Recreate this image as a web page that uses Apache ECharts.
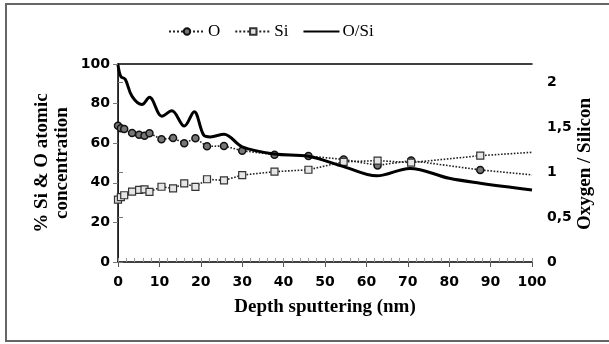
<!DOCTYPE html>
<html>
<head>
<meta charset="utf-8">
<script src="https://cdn.jsdelivr.net/npm/echarts@6/dist/echarts.min.js"></script>
<style>html,body{margin:0;padding:0;background:#fff}#c{width:609px;height:344px}</style>
</head>
<body>
<div id="c"></div>
<script>
// Depth (nm) of each measurement
const depth = [0, 0.7, 1.5, 3.4, 5.1, 6.4, 7.6, 10.5, 13.3, 16, 18.7, 21.5, 25.6, 30, 37.8, 46, 54.5, 62.7, 70.8, 87.5, 100];
// O atomic concentration (%)
const oConc = [68.8, 67.5, 67.2, 65.2, 64.3, 63.8, 65, 62, 62.6, 60, 62.5, 58.4, 58.6, 56.2, 54.2, 53.5, 51.8, 48.8, 51.2, 46.5, 44];
// Si atomic concentration (%)
const siConc = [31.5, 32.8, 33.7, 35.5, 36.4, 36.7, 35.4, 38, 37.2, 39.7, 37.9, 41.8, 41.2, 43.9, 45.6, 46.6, 50.6, 51.2, 50.2, 53.7, 55.4];
// O/Si ratio curve (right axis)
const ratioDepth = [0, 0.7, 1.75, 3.4, 5.8, 7.6, 10.6, 13, 16, 18.4, 20.7, 22.3, 25.6, 30, 37.8, 46, 54.5, 62.5, 70.5, 80, 87.5, 100];
const ratio = [2.19, 2.06, 2.03, 1.84, 1.75, 1.83, 1.62, 1.68, 1.51, 1.67, 1.41, 1.39, 1.42, 1.28, 1.2, 1.175, 1.06, 0.957, 1.04, 0.93, 0.876, 0.80];

const seriesNames = ['O', 'Si', 'O/Si'];
const xTitle = 'Depth sputtering (nm)';
const yTitleLines = ['% Si & O atomic', 'concentration'];
const y2Title = 'Oxygen / Silicon';

function pts(xs, ys, markLast) {
  return xs.map((x, i) => (markLast && i === xs.length - 1) ? {value: [x, ys[i]], symbol: 'none'} : [x, ys[i]]);
}

const tickFont = {fontFamily: 'DejaVu Sans', fontWeight: 'bold', fontSize: 14, color: '#000'};
const titleFont = 'bold 19px "Liberation Serif"';

const chart = echarts.init(document.getElementById('c'), null, {renderer: 'canvas'});
chart.setOption({
  animation: false,
  backgroundColor: '#fff',
  grid: {left: 118, right: 77, top: 64, bottom: 82, show: false},
  legend: {
    left: 163, top: 18, itemWidth: 36, itemHeight: 8, itemGap: 14,
    textStyle: {fontFamily: 'Liberation Serif', fontSize: 17, color: '#000', padding: [0, 0, 0, -2]},
    data: [
      {name: seriesNames[0]},
      {name: seriesNames[1]},
      {name: seriesNames[2], itemStyle: {opacity: 0}}
    ]
  },
  xAxis: [
    {type: 'value', min: 0, max: 100, interval: 10, position: 'bottom',
     axisLine: {show: true, lineStyle: {color: '#000', width: 1.5}},
     axisTick: {show: true, inside: false, length: 5, lineStyle: {color: '#555'}},
     axisLabel: Object.assign({margin: 13}, tickFont),
     splitLine: {show: false}},
    {type: 'value', min: 0, max: 100, interval: 2, position: 'bottom',
     axisLine: {show: false}, axisLabel: {show: false}, splitLine: {show: false},
     axisTick: {show: true, inside: true, length: 4, lineStyle: {color: '#999'}}},
    {type: 'value', min: 0, max: 100, position: 'top',
     axisLine: {show: true, lineStyle: {color: '#000', width: 1.5}},
     axisTick: {show: false}, axisLabel: {show: false}, splitLine: {show: false}}
  ],
  yAxis: [
    {type: 'value', min: 0, max: 100, interval: 20, position: 'left',
     axisLine: {show: true, lineStyle: {color: '#777', width: 1}},
     axisTick: {show: true, inside: false, length: 5, lineStyle: {color: '#777'}},
     axisLabel: Object.assign({margin: 8}, tickFont),
     splitLine: {show: false}},
    {type: 'value', min: 0, max: 2.2, interval: 0.5, position: 'right',
     axisLine: {show: true, lineStyle: {color: '#000', width: 1.5}},
     axisTick: {show: true, inside: false, length: 5, lineStyle: {color: '#777'}},
     axisLabel: Object.assign({margin: 15, showMaxLabel: false,
       formatter: v => String(v).replace('.', ',')}, tickFont),
     splitLine: {show: false}}
  ],
  series: [
    {name: seriesNames[0], type: 'line', xAxisIndex: 0, yAxisIndex: 0, data: pts(depth, oConc, true),
     symbol: 'circle', symbolSize: 7,
     lineStyle: {color: '#222', width: 1.6, type: 'dotted'},
     itemStyle: {color: '#777', borderColor: '#111', borderWidth: 1.5}, z: 3},
    {name: seriesNames[1], type: 'line', xAxisIndex: 0, yAxisIndex: 0, data: pts(depth, siConc, true),
     symbol: 'rect', symbolSize: 7,
     lineStyle: {color: '#222', width: 1.6, type: 'dotted'},
     itemStyle: {color: '#e6e6e6', borderColor: '#333', borderWidth: 1.2}, z: 3},
    {name: seriesNames[2], type: 'line', xAxisIndex: 0, yAxisIndex: 1, data: pts(ratioDepth, ratio, false),
     smooth: 0.35, showSymbol: false, symbol: 'none',
     lineStyle: {color: '#000', width: 3}, itemStyle: {color: '#000'}, z: 4}
  ],
  graphic: [
    {type: 'rect', silent: true, z: 100, shape: {x: 6, y: 4, width: 620, height: 337},
     style: {fill: 'none', stroke: '#666', lineWidth: 2}},
    {type: 'text', x: 325, y: 307, style: {text: xTitle, font: titleFont, fill: '#000', textAlign: 'center', textVerticalAlign: 'middle'}},
    {type: 'text', x: 42, y: 163, rotation: Math.PI / 2, style: {text: yTitleLines[0], font: titleFont, fill: '#000', textAlign: 'center', textVerticalAlign: 'middle'}},
    {type: 'text', x: 62, y: 163, rotation: Math.PI / 2, style: {text: yTitleLines[1], font: titleFont, fill: '#000', textAlign: 'center', textVerticalAlign: 'middle'}},
    {type: 'text', x: 585, y: 164, rotation: Math.PI / 2, style: {text: y2Title, font: titleFont, fill: '#000', textAlign: 'center', textVerticalAlign: 'middle'}}
  ]
});
</script>
</body>
</html>
